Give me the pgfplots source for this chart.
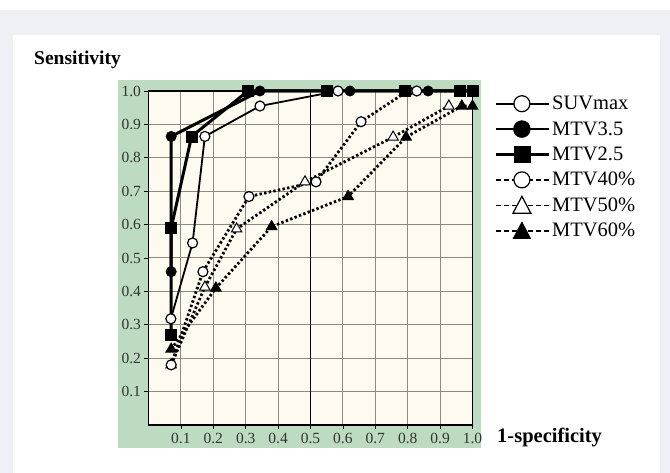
\documentclass[border=0pt]{standalone}
\usepackage{pgfplots}
\pgfplotsset{compat=1.18}
\usepackage{fontspec}
\setmainfont{Liberation Serif}
\definecolor{outerbg}{HTML}{EEF0F5}
\definecolor{greenbg}{HTML}{BCDBC1}
\definecolor{cream}{HTML}{FFFAEF}
\definecolor{gridgray}{HTML}{8C8A82}
\definecolor{ticklab}{HTML}{333333}
\begin{document}
\begin{tikzpicture}[x=1pt,y=1pt]
\useasboundingbox (0,0) rectangle (670,473);
\fill[white] (0,0) rectangle (670,473);
\fill[outerbg] (0,0) rectangle (670,463);
\fill[white] (13,0) rectangle (660,438);
\fill[greenbg] (118,25) rectangle (481,393);
\node[font=\bfseries\fontsize{19.5}{20}\selectfont, anchor=west, inner sep=0pt] at (34,413) {Sensitivity};
\node[font=\bfseries\fontsize{20.5}{21}\selectfont, anchor=west, inner sep=0pt] at (497,35) {1-specificity};
\begin{axis}[
  at={(148.5pt,48pt)}, anchor=south west, scale only axis,
  width=324pt, height=334pt,
  xmin=0, xmax=1, ymin=0, ymax=1,
  axis background/.style={fill=cream},
  xtick={0.1,0.2,0.3,0.4,0.5,0.6,0.7,0.8,0.9,1.0},
  ytick={0.1,0.2,0.3,0.4,0.5,0.6,0.7,0.8,0.9,1.0},
  grid=major, grid style={gridgray, line width=1pt},
  axis line style={black, line width=1.3pt},
  tick style={black, line width=0.8pt}, tick align=outside, major tick length=4pt,
  tick pos=left,
  every tick label/.append style={font=\fontsize{15.5}{16}\selectfont, text=ticklab},
  xticklabel style={yshift=-1pt},
  /pgf/number format/.cd, fixed, fixed zerofill, precision=1, assume math mode=true,
  /pgfplots/.cd,
  clip=false,
  legend style={at={(1,1)}, anchor=north west, xshift=22pt, yshift=-3pt, draw=none, fill=none,
    font=\fontsize{20.5}{22}\selectfont, row sep=6.3pt, inner sep=0pt,
    /tikz/every even column/.style={column sep=10pt}},
  legend cell align=left,
  dotline/.style={black, line width=2.8pt, dash pattern=on 2.4pt off 2.3pt},
]
\draw[black, line width=0.9pt] (axis cs:0.5,0) -- (axis cs:0.5,1);
% dotted series
\addplot[dotline, mark=triangle*, mark size=6pt, mark options={solid, fill=black, line width=1pt}, forget plot]
 coordinates {(0.07,0.227) (0.208,0.41) (0.38,0.594) (0.616,0.684) (0.795,0.862) (0.967,0.955) (1.0,0.955)};
\addplot[dotline, mark=triangle*, mark size=6pt, mark options={solid, fill=white, line width=1pt}, forget plot]
 coordinates {(0.07,0.18) (0.174,0.413) (0.272,0.587) (0.483,0.728) (0.755,0.862) (0.927,0.955)};
\addplot[dotline, mark=*, mark size=5pt, mark options={solid, fill=white, line width=1.2pt}, forget plot]
 coordinates {(0.07,0.18) (0.168,0.459) (0.31,0.684) (0.517,0.728) (0.656,0.908) (0.80,1.0) (1.0,1.0)};
% solid series
\addplot[black, line width=1.8pt, mark=*, mark size=5pt, mark options={fill=white, line width=1.2pt}, forget plot]
 coordinates {(0.069,0.318) (0.136,0.545) (0.174,0.864) (0.344,0.955) (0.585,1.0) (0.828,1.0) (1.0,1.0)};
\addplot[black, line width=3pt, mark=square*, mark size=5.5pt, mark options={fill=black, line width=0.5pt}, forget plot]
 coordinates {(0.07,0.27) (0.07,0.59) (0.133,0.864) (0.307,1.0) (0.55,1.0) (0.79,1.0) (0.96,1.0) (1.0,1.0)};
\addplot[black, line width=3pt, mark=*, mark size=5.2pt, mark options={fill=black, line width=0.5pt}, forget plot]
 coordinates {(0.07,0.459) (0.07,0.864) (0.344,1.0) (0.622,1.0) (0.863,1.0) (1.0,1.0)};
% legend
\addlegendimage{legend image code/.code={
  \draw[black, line width=2.4pt] (0pt,0pt) -- (53pt,0pt);
  \draw[black, fill=white, line width=1.2pt] (26pt,0pt) circle (8pt);}}
\addlegendentry{SUVmax}
\addlegendimage{legend image code/.code={
  \draw[black, line width=2.4pt] (0pt,0pt) -- (53pt,0pt);
  \fill[black] (26pt,0pt) circle (8.5pt);}}
\addlegendentry{MTV3.5}
\addlegendimage{legend image code/.code={
  \draw[black, line width=2.4pt] (0pt,0pt) -- (53pt,0pt);
  \fill[black] (18pt,-8pt) rectangle (34pt,8pt);}}
\addlegendentry{MTV2.5}
\addlegendimage{legend image code/.code={
  \draw[black, line width=1.6pt, dash pattern=on 5pt off 3pt] (0pt,0pt) -- (53pt,0pt);
  \draw[black, fill=white, line width=1.2pt] (26pt,0pt) circle (8pt);}}
\addlegendentry{MTV40\%}
\addlegendimage{legend image code/.code={
  \draw[black, line width=1.6pt, dash pattern=on 5pt off 3pt] (0pt,0pt) -- (53pt,0pt);
  \draw[black, fill=white, line width=1.2pt] (17pt,-8pt) -- (35pt,-8pt) -- (26pt,9pt) -- cycle;}}
\addlegendentry{MTV50\%}
\addlegendimage{legend image code/.code={
  \draw[black, line width=1.6pt, dash pattern=on 5pt off 3pt] (0pt,0pt) -- (53pt,0pt);
  \fill[black] (17pt,-8pt) -- (35pt,-8pt) -- (26pt,9pt) -- cycle;}}
\addlegendentry{MTV60\%}
\end{axis}
\end{tikzpicture}
\end{document}
